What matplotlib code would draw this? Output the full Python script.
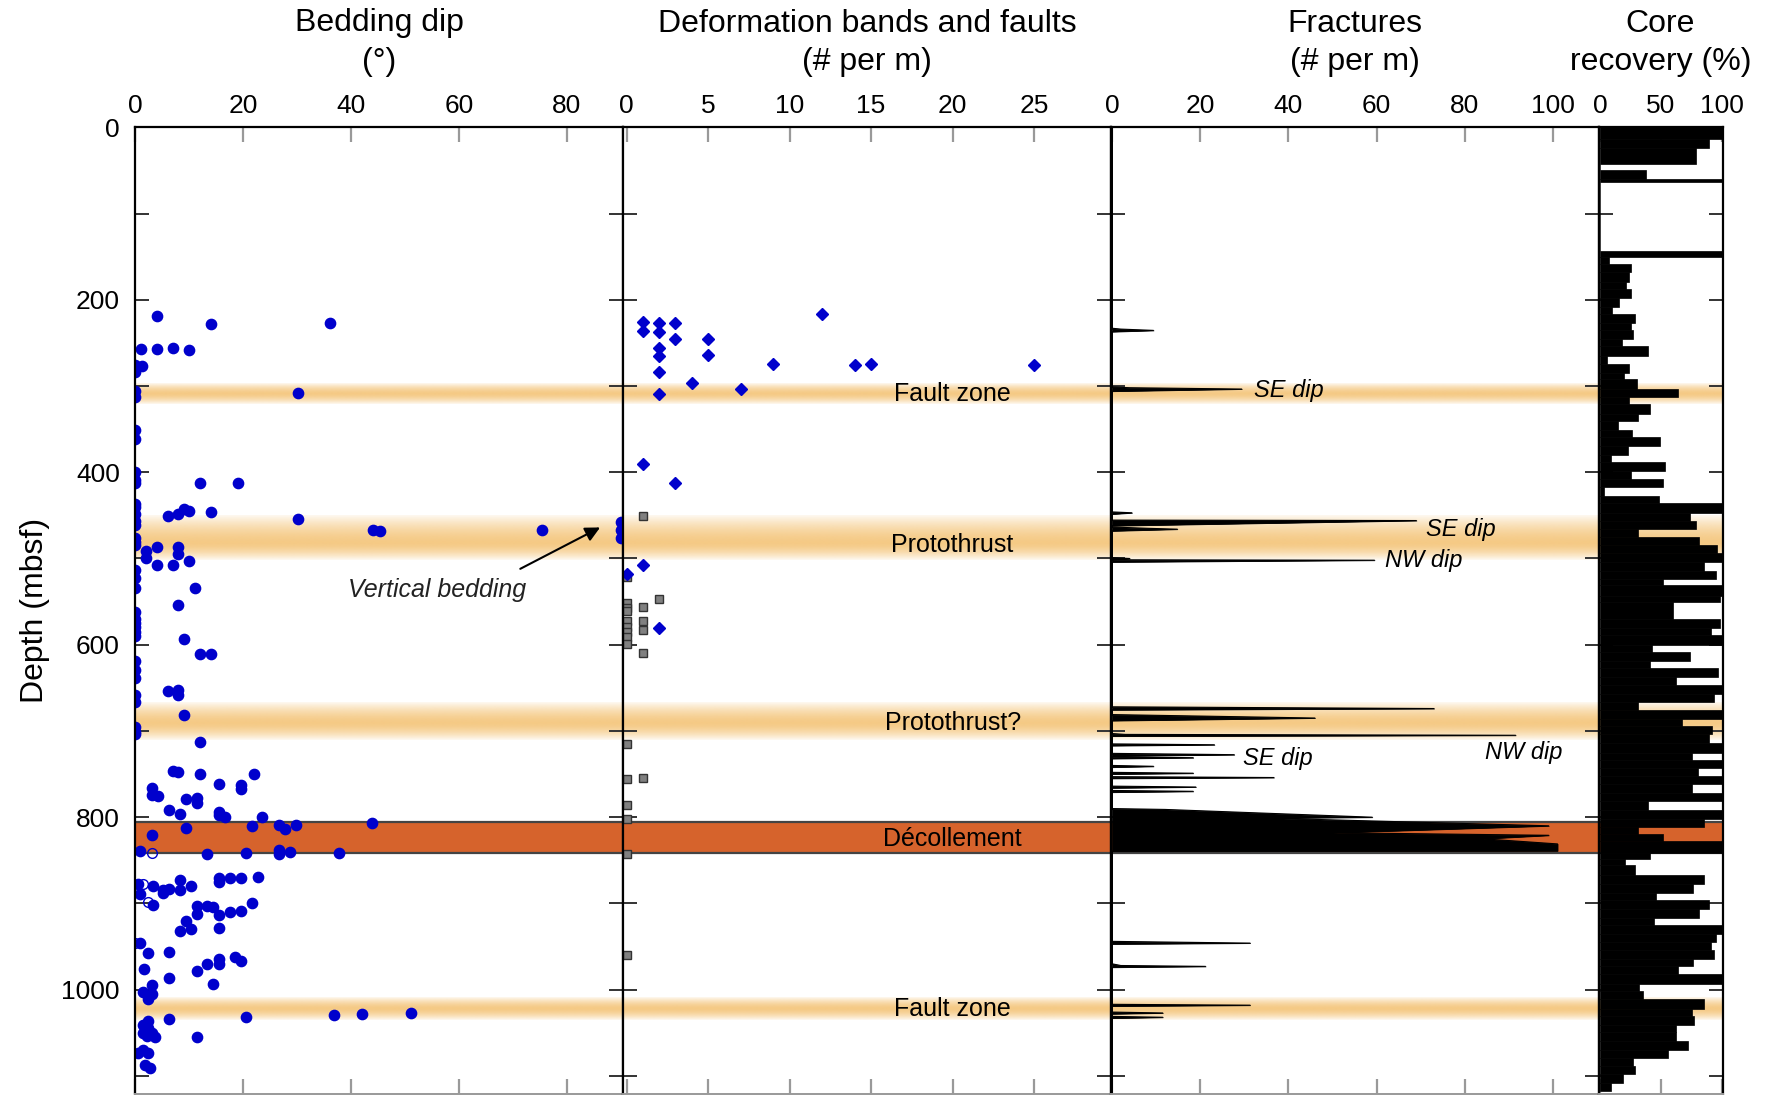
import numpy as np
import matplotlib
matplotlib.use("Agg")
import matplotlib.pyplot as plt
from matplotlib.colors import to_rgb

plt.rcParams['font.family'] = ['Liberation Sans', 'DejaVu Sans']

# ---------------- data ----------------
# Bedding dip (degrees) against depth (mbsf)
bed_dip = [4.0, 14.0, 36.2, 1.1, 4.0, 7.1, 10.0, 0, 1.3, 0, 0, 0, 30.2, 0, 0, 0, 0, 0,
           12.0, 19.0, 0, 0, 0, 0, 0, 6.0, 8.0, 9.0, 10.0, 14.0, 30.2, 44.1, 45.4, 75.5,
           0, 0, 0, 4.0, 8.0, 2.0, 2.0, 8.0, 4.0, 7.1, 10.0, 0, 0, 0, 11.1,
           0, 0, 0, 0, 0, 0, 8.0, 9.0, 12.0, 14.0, 0, 0, 0, 0, 0, 6.0, 8.0, 8.0, 9.0,
           0, 0, 0, 12.0, 7.0, 8.0, 12.0, 22.1, 15.5, 19.6, 19.6, 3.2, 3.2, 4.3, 9.4,
           11.4, 11.4, 6.3, 8.3, 15.5, 15.5, 16.6, 23.6, 21.6, 26.7, 27.8, 29.8, 43.9,
           9.4, 3.2, 0.9, 13.4, 20.5, 26.7, 26.7, 28.7, 37.8, 8.3, 8.3, 15.5, 15.5,
           17.5, 19.6, 22.7, 0.6, 3.3, 0.8, 5.2, 6.3, 5.2, 10.3, 3.3, 11.4, 13.4, 14.5,
           11.4, 15.5, 17.5, 19.6, 21.6, 9.4, 8.3, 10.3, 15.5, 0.9, 2.3, 6.3, 1.6, 11.4,
           13.4, 15.5, 15.5, 18.5, 19.6, 6.3, 14.5, 1.5, 3.2, 3.2, 2.3, 2.3, 1.5, 2.3,
           1.5, 3.2, 2.2, 3.7, 6.3, 20.5, 36.9, 42.0, 51.1, 11.4, 0.6, 1.5, 2.3, 1.8, 2.8]
bed_depth = [218.5, 228, 227, 257, 257, 256, 258, 276, 277, 284, 305.6, 312.6, 308, 351,
             361, 399.5, 409, 413, 412, 413, 437, 440, 448, 457, 461, 450.6, 448, 443,
             445, 446, 454, 467, 468, 467.5, 476.8, 480.7, 484.5, 487, 487, 491, 500,
             495, 507, 508, 503, 513.6, 523, 534, 534,
             562, 570, 575, 580, 585, 590, 554, 593, 611, 611, 619, 629, 639, 658, 667,
             654, 653, 658, 681, 696, 701, 703, 713, 746, 748, 750, 750, 761, 763, 767,
             766, 774, 776, 779, 778, 784, 792, 796, 794, 798, 800, 800, 810, 809, 814,
             809, 807, 812, 821, 839, 843, 842, 837.5, 843, 840, 841, 873, 884, 871, 875,
             871, 870, 869, 878, 880, 889, 888, 883, 885, 880, 902, 903, 903, 904, 912,
             913, 910, 909, 899, 920, 932, 930, 928, 946, 958, 956, 975.6, 978, 970, 964,
             970, 962, 967, 987, 993, 1003, 995, 1005, 1011, 1036, 1041, 1045, 1050, 1050,
             1054, 1055, 1034, 1032, 1029, 1028, 1027, 1055, 1074, 1070, 1074, 1087, 1091]
bed_open_dip = [3.2, 1.5, 2.4, 0]
bed_open_depth = [842, 878, 898, 946]
vert_bed_dip = [90, 90, 90]
vert_bed_depth = [458, 467, 476]

# Deformation bands and faults (# per m)
fault_count = [1, 1, 2, 2, 3, 3, 5, 5, 2, 2, 2, 4, 7, 2, 9, 12, 14, 15, 25, 1, 3, 1, 0, 2]
fault_depth = [225.5, 236, 227, 237, 227, 245.6, 246, 264, 256, 265, 284, 296, 303, 309,
               275, 217, 276, 274, 276, 391, 412, 508, 518, 581]
band_count = [1, 0, 2, 0, 0, 0, 1, 0, 0, 0, 0, 0, 1, 1, 1, 0, 0, 1, 0, 0, 0, 0]
band_depth = [451, 521, 547, 552, 557, 561, 556, 573, 579, 585, 591, 599, 573, 583, 610,
              714.6, 756, 755, 786, 802, 843, 960]

# Fractures (# per m)
frac_depth = [0, 233, 234, 235.5, 237, 301, 302, 303.5, 306, 446, 447, 448.5,
              455.5, 456, 462, 463.5, 465, 466, 468, 499, 500, 501, 501.5, 502, 504,
              672, 674, 675.5, 681, 685, 688, 703, 704, 705, 706, 715, 716, 717,
              726, 727.5, 729, 730, 731, 732, 740, 741, 742, 748, 749, 750, 753, 754, 755,
              764, 765, 766, 769, 770, 771,
              790, 791, 800, 801, 810, 818, 821, 825, 831, 839, 839.5,
              944, 946, 947, 970, 972, 973, 974, 1017, 1018, 1019, 1026, 1027, 1028,
              1031, 1032, 1033, 1121]
frac_count = [0, 0, 2, 9.4, 0, 0, 4, 29.4, 0, 0, 4.5, 0,
              0, 69, 0, 0, 8, 14.8, 0, 0, 4, 0, 0, 59.5, 0,
              0, 73, 0, 0, 46, 0, 0, 3, 91.5, 0, 0, 23.2, 0,
              0, 27.7, 0, 0, 18.4, 0, 0, 9.4, 0, 0, 18.4, 0, 0, 36.7, 0,
              0, 19, 0, 0, 18.4, 0,
              0, 12, 59, 35, 99, 50, 99, 84, 101, 101, 0,
              0, 31.3, 0, 0, 2, 21.2, 0, 0, 31.3, 0, 0, 11.5, 0,
              0, 11.5, 0, 0]

# Core recovery (%) per cored interval
core_top = [0, 14, 24, 42, 50, 60, 64, 143, 150, 158, 168, 179, 187, 198, 208, 216, 227,
            235, 246, 254, 265, 274, 285, 292, 303, 313, 321, 332, 341, 351, 359, 370,
            380, 388, 398, 408, 417, 427, 436, 447, 456, 466, 475, 484, 494, 504, 514,
            524, 531, 543, 551, 570, 581, 589, 600, 608, 619, 627, 637, 647, 657, 667,
            676, 686, 694, 703, 714, 725, 734, 743, 752, 762, 772, 781, 792, 802, 811,
            819, 828, 841, 849, 856, 867, 878, 888, 896, 906, 917, 925, 936, 945, 954,
            964, 973, 982, 993, 1001, 1011, 1022, 1030, 1041, 1049, 1059, 1070, 1079,
            1089, 1098, 1108]
core_bottom = core_top[1:] + [1118]
core_rec = [100, 89, 79, 0, 38, 100, 0, 100, 7, 25, 24, 21, 25, 15.5, 10, 29, 25, 27, 18,
            39, 6, 24, 19.5, 30, 64, 24, 41, 31, 15, 26, 49, 23, 9, 53, 25, 51.5, 3, 48,
            100, 74, 79, 31, 81, 96, 100, 85, 95, 51.5, 100, 98, 60, 98, 91, 100, 43, 74,
            41, 97, 62, 100, 93, 31, 100, 67, 92, 89, 100, 75, 100, 80, 100, 75, 100, 39,
            100, 85, 31, 52, 100, 41, 20.5, 29, 85, 76.5, 46, 89, 81, 44, 100, 95, 91, 93,
            76, 64, 100, 32, 35, 85, 75, 77, 62, 62.5, 72, 55.5, 27, 29, 19, 9]

# Structural zones (mbsf)
zone_names = ["Fault zone", "Protothrust", "Protothrust?", "Fault zone"]
zone_top = [297, 450, 667, 1009]
zone_bottom = [321, 502, 710, 1035]
zone_label_depth = [309, 484, 691, 1022]
decol_top, decol_bottom = 806, 841

# ---------------- figure ----------------
W, H = 1767, 1095
fig = plt.figure(figsize=(W / 100, H / 100), dpi=100)

Y_TOP, Y_BOT = 127.3, 1094.0
edges = [135.2, 623.3, 1110.7, 1598.5, 1722.5]
axes = []
for x0, x1 in zip(edges[:-1], edges[1:]):
    axes.append(fig.add_axes([x0 / W, 1 - Y_BOT / H, (x1 - x0) / W, (Y_BOT - Y_TOP) / H]))
ax1, ax2, ax3, ax4 = axes

xlims = [(0, 90.5), (-0.2, 29.7), (-0.3, 110.3), (-1.2, 100.3)]
xticks = [[0, 20, 40, 60, 80], [0, 5, 10, 15, 20, 25], [0, 20, 40, 60, 80, 100], [0, 50, 100]]
DEPTH_MAX = 1121

band_rgb = np.array(to_rgb('#F3BE6A'))
decol_color = '#D6632C'


def draw_zones(ax, xlim):
    for zt, zb, peak in zip(zone_top, zone_bottom, [0.5, 0.62, 0.55, 0.5]):
        n = 80
        u = np.linspace(0, 1, n)
        d = np.where(u < peak, (peak - u) / peak, (u - peak) / (1 - peak))
        alpha = 0.1 + 0.72 * (1 - d ** 1.6)
        img = np.zeros((n, 1, 4))
        img[:, 0, :3] = band_rgb
        img[:, 0, 3] = alpha
        ax.imshow(img, extent=(xlim[0], xlim[1], zb, zt), origin='upper',
                  aspect='auto', interpolation='bilinear', zorder=0.5)
    ax.axhspan(decol_top, decol_bottom, color=decol_color, zorder=0.6, lw=0)
    for d in (decol_top, decol_bottom):
        ax.axhline(d, color='#444444', lw=1.6, zorder=0.7)


for ax, xl, xt in zip(axes, xlims, xticks):
    draw_zones(ax, xl)
    ax.set_xlim(*xl)
    ax.set_ylim(DEPTH_MAX, 0)
    ax.set_xticks(xt)
    ax.set_yticks([0, 200, 400, 600, 800, 1000])
    ax.set_yticks([100, 300, 500, 700, 900, 1100], minor=True)
    ax.xaxis.set_ticks_position('both')
    ax.tick_params(axis='x', which='both', direction='in', top=True, bottom=True,
                   labeltop=True, labelbottom=False, color='#999999', length=11,
                   width=1.6, pad=7, labelsize=19)
    ax.tick_params(axis='y', which='both', direction='in', left=True, right=True,
                   labelleft=(ax is ax1), color='#333333', length=10, width=1.4,
                   pad=11, labelsize=19)
    for s in ('top', 'left', 'right'):
        ax.spines[s].set_color('black')
        ax.spines[s].set_linewidth(1.6)
    ax.spines['bottom'].set_color('#999999')
    ax.spines['bottom'].set_linewidth(1.4)
    for sp in ax.spines.values():
        sp.set_zorder(5)

# Bedding dip
ax1.plot(bed_dip, bed_depth, 'o', color='#0000CC', ms=7.4, mec='#0000CC', zorder=3)
ax1.plot(bed_open_dip, bed_open_depth, 'o', mfc='none', mec='#0000CC', ms=7, mew=1, zorder=3)
ax1.plot(vert_bed_dip, vert_bed_depth, 'o', color='#0000CC', ms=7.4, zorder=6, clip_on=False)
ax1.annotate('', xy=(86.2, 464), xytext=(71.4, 512),
             arrowprops=dict(arrowstyle='-|>', color='black', lw=1.5, mutation_scale=22,
                             shrinkA=0, shrinkB=0), zorder=4)
ax1.text(56, 537, 'Vertical bedding', style='italic', fontsize=18, color='#222222',
         ha='center', va='center', zorder=4)
ax1.set_ylabel('Depth (mbsf)', fontsize=23, labelpad=8)

# Deformation bands and faults
ax2.plot(band_count, band_depth, 's', mfc='#808080', mec='#333333', ms=6, mew=1, zorder=3)
ax2.plot(fault_count, fault_depth, 'D', color='#0000CC', ms=6.5, zorder=3.5)
for name, d in zip(zone_names, zone_label_depth):
    ax2.text(20, d, name, fontsize=18, ha='center', va='center', zorder=4)
ax2.text(20, (decol_top + decol_bottom) / 2 + 1.5, 'Décollement', fontsize=18, ha='center',
         va='center', zorder=4)

# Fractures
ax3.fill_betweenx(frac_depth, 0, frac_count, color='black', lw=0.6, zorder=3)
ax3.plot(frac_count, frac_depth, color='black', lw=0.8, zorder=3)
for txt, x, d in [('SE dip', 32.2, 305), ('SE dip', 71.3, 466), ('NW dip', 62, 502),
                  ('SE dip', 29.6, 732), ('NW dip', 84.5, 725)]:
    ax3.text(x, d, txt, style='italic', fontsize=17, ha='left', va='center', zorder=4)

# Core recovery
ax4.barh(core_top, core_rec, height=np.array(core_bottom) - np.array(core_top),
         align='edge', color='black', edgecolor='black', lw=0.5, zorder=3)

# Column headings
heads = [("Bedding dip", "(°)"), ("Deformation bands and faults", "(# per m)"),
         ("Fractures", "(# per m)"), ("Core", "recovery (%)")]
for (l1, l2), x0, x1 in zip(heads, edges[:-1], edges[1:]):
    xc = (x0 + x1) / 2 / W
    fig.text(xc, 1 - 23.5 / H, l1, fontsize=23, ha='center', va='center')
    fig.text(xc, 1 - 62 / H, l2, fontsize=23, ha='center', va='center')

fig.savefig('out.png', dpi=100)
